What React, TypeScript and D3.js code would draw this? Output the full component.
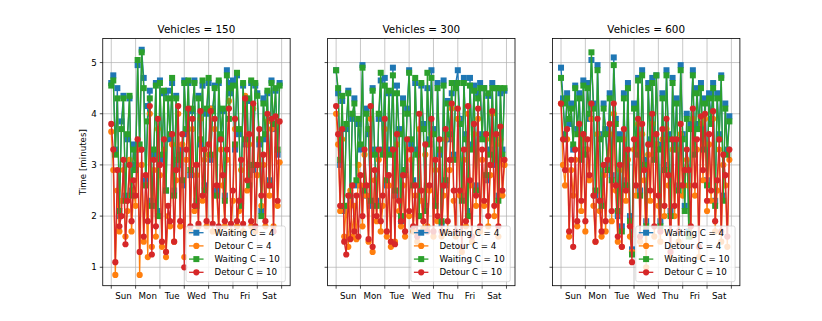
import React from 'react';
import * as d3 from 'd3';

// day labels and y ticks
const days = ['Sun', 'Mon', 'Tue', 'Wed', 'Thu', 'Fri', 'Sat'];
const yTicks = [1, 2, 3, 4, 5];
const vehicles = [150, 300, 600];
const seriesNames = ['Waiting C = 4', 'Detour C = 4', 'Waiting C = 10', 'Detour C = 10'];

// one value every 2 hours, Sun 00:00 .. Sat 22:00 (12 per day)
const waitC4_150 = [
  4.6, 4.75, 3.3, 4.5, 2.0, 3.85, 4.35, 2.4, 3.5, 4.3, 2.5, 3.4,
  3.0, 4.95, 3.3, 5.25, 4.7, 2.7, 4.15, 4.45, 2.3, 3.2, 4.6, 2.1,
  4.65, 3.1, 4.4, 2.5, 4.45, 3.5, 4.6, 2.5, 4.35, 3.0, 3.3, 2.6,
  4.65, 3.6, 4.6, 2.8, 4.05, 4.65, 2.3, 4.35, 3.4, 4.55, 2.6, 4.0,
  4.6, 3.1, 4.1, 4.55, 2.5, 4.6, 3.5, 4.05, 2.4, 4.85, 4.6, 4.4,
  4.65, 3.3, 4.75, 3.6, 2.3, 4.55, 3.4, 4.25, 2.8, 4.6, 2.9, 4.55,
  4.4, 3.4, 2.1, 4.3, 3.5, 4.4, 2.7, 4.65, 3.7, 4.45, 3.2, 4.6,
];
const detourC4_150 = [
  3.65, 2.9, 0.85, 2.5, 1.7, 2.3, 2.9, 1.6, 2.1, 3.1, 1.7, 2.5,
  2.2, 3.3, 0.85, 3.0, 1.5, 2.6, 1.2, 4.0, 1.4, 2.9, 1.6, 3.7,
  2.8, 1.4, 3.3, 1.2, 2.0, 1.8, 3.4, 1.5, 2.7, 4.0, 1.8, 3.4,
  1.2, 3.1, 3.9, 1.7, 3.7, 2.1, 2.8, 1.8, 3.9, 2.3, 3.1, 1.8,
  3.2, 4.1, 1.7, 3.7, 2.4, 1.7, 3.3, 2.6, 1.8, 3.1, 4.25, 1.7,
  2.3, 3.7, 1.8, 2.1, 2.9, 1.7, 4.35, 2.5, 3.4, 1.8, 4.1, 1.7,
  2.8, 3.5, 2.2, 3.0, 1.8, 3.85, 2.4, 3.7, 1.8, 3.8, 2.2, 3.05,
];
const waitC10_150 = [
  4.55, 4.65, 3.2, 4.3, 2.1, 3.7, 4.3, 2.3, 3.6, 4.35, 2.4, 3.3,
  2.9, 5.05, 3.4, 5.2, 4.5, 2.6, 3.85, 4.3, 2.2, 3.3, 4.55, 2.0,
  4.6, 3.2, 4.45, 2.5, 4.3, 3.6, 4.7, 2.4, 4.3, 3.1, 3.2, 2.7,
  4.6, 3.7, 4.65, 2.9, 4.1, 4.6, 2.2, 4.3, 3.5, 4.65, 2.5, 4.1,
  4.7, 3.2, 4.05, 4.5, 2.4, 4.65, 3.6, 4.1, 2.3, 4.75, 3.9, 4.5,
  4.55, 3.4, 4.8, 3.7, 2.2, 4.6, 3.5, 4.3, 2.6, 4.65, 3.0, 4.6,
  4.35, 3.5, 2.0, 4.2, 3.6, 4.45, 2.6, 4.6, 3.8, 4.5, 3.3, 4.55,
];
const detourC10_150 = [
  3.8, 3.3, 1.1, 2.9, 1.8, 2.0, 3.1, 1.45, 2.3, 3.0, 1.9, 2.7,
  2.4, 3.5, 1.3, 3.3, 1.6, 2.8, 1.9, 4.15, 1.25, 3.1, 1.8, 3.9,
  3.0, 1.5, 3.5, 1.3, 2.2, 1.9, 3.6, 1.5, 2.9, 4.15, 1.9, 3.6,
  1.0, 3.3, 4.1, 1.8, 3.9, 2.2, 3.0, 1.85, 4.05, 2.4, 3.3, 1.9,
  3.4, 4.05, 1.85, 3.9, 2.6, 1.8, 3.5, 2.8, 1.9, 3.3, 4.1, 1.85,
  2.5, 3.9, 1.9, 2.3, 3.1, 1.85, 4.3, 2.7, 3.6, 1.9, 4.2, 1.8,
  3.0, 3.7, 2.4, 3.2, 1.9, 4.0, 2.6, 3.9, 1.7, 3.95, 2.3, 3.85,
];

const waitC4_300 = [
  4.85, 4.4, 3.0, 4.25, 2.1, 3.7, 4.45, 2.3, 3.9, 4.3, 2.6, 3.8,
  3.3, 4.95, 2.4, 4.1, 3.6, 2.2, 4.5, 3.3, 2.3, 3.9, 4.65, 3.3,
  4.7, 2.6, 4.4, 3.3, 4.9, 2.4, 4.55, 3.7, 1.9, 4.3, 2.8, 4.1,
  4.85, 3.4, 2.7, 4.6, 3.3, 2.0, 4.55, 3.8, 2.2, 4.5, 3.5, 4.85,
  3.7, 2.3, 4.6, 3.2, 1.85, 4.65, 2.6, 4.25, 3.5, 4.4, 3.2, 4.6,
  4.85, 3.9, 2.4, 4.7, 3.6, 2.1, 4.7, 3.4, 4.55, 2.6, 4.4, 4.6,
  3.6, 4.5, 2.7, 4.35, 3.3, 4.6, 3.0, 4.5, 2.4, 4.4, 3.3, 4.45,
];
const detourC4_300 = [
  4.0, 3.4, 2.1, 3.5, 1.6, 2.2, 1.4, 2.5, 1.6, 2.2, 1.55, 3.0,
  2.6, 1.8, 3.2, 2.4, 1.5, 3.9, 1.3, 2.7, 1.9, 3.1, 1.7, 2.2,
  3.7, 1.6, 2.6, 1.4, 3.2, 1.5, 3.4, 2.1, 1.8, 2.6, 1.6, 3.3,
  2.0, 3.1, 1.7, 2.4, 1.5, 3.7, 2.3, 1.75, 3.2, 1.8, 2.5, 3.6,
  1.6, 2.9, 1.9, 3.3, 1.6, 2.4, 3.5, 1.7, 2.9, 4.1, 2.3, 1.6,
  3.9, 2.4, 1.3, 3.1, 1.8, 4.0, 2.6, 1.5, 3.6, 2.2, 3.9, 1.7,
  3.1, 2.2, 3.5, 1.8, 2.8, 4.0, 2.0, 3.4, 1.6, 3.5, 2.4, 3.0,
];
const waitC10_300 = [
  4.85, 4.5, 3.1, 4.35, 2.2, 3.8, 4.4, 2.4, 4.0, 4.2, 2.7, 3.9,
  3.4, 4.9, 2.5, 4.0, 3.7, 2.3, 4.45, 3.2, 2.2, 4.0, 4.8, 3.2,
  4.55, 2.7, 4.45, 3.2, 4.75, 2.5, 4.4, 3.6, 2.0, 4.2, 2.9, 4.0,
  4.8, 3.5, 2.6, 4.7, 3.2, 2.0, 4.6, 3.7, 2.1, 4.8, 3.4, 4.7,
  3.6, 2.2, 4.5, 3.3, 1.9, 4.55, 2.7, 4.2, 3.6, 4.6, 3.1, 4.5,
  4.6, 3.8, 2.3, 4.6, 3.5, 2.0, 4.55, 3.3, 4.45, 2.5, 4.3, 4.5,
  3.5, 4.5, 2.8, 4.4, 3.2, 4.5, 3.1, 4.5, 2.3, 4.5, 3.2, 4.5,
];
const detourC10_300 = [
  4.15, 3.6, 2.2, 3.7, 1.5, 1.25, 2.4, 1.55, 2.6, 1.7, 2.4, 1.6,
  2.8, 2.0, 3.3, 2.6, 1.55, 4.15, 1.4, 2.9, 2.0, 3.3, 1.9, 2.4,
  3.9, 1.7, 2.8, 1.5, 3.3, 1.45, 3.6, 2.3, 1.9, 2.8, 1.7, 3.5,
  2.1, 3.3, 1.8, 2.6, 1.6, 4.0, 2.5, 1.9, 3.4, 1.7, 2.6, 3.9,
  1.7, 3.1, 2.0, 3.5, 1.7, 2.6, 3.7, 1.9, 3.1, 4.2, 2.5, 1.7,
  4.1, 2.5, 1.4, 3.3, 1.9, 4.15, 2.7, 1.6, 3.8, 2.4, 4.1, 1.8,
  3.3, 2.3, 3.6, 2.0, 3.0, 4.05, 2.2, 3.6, 1.8, 3.75, 2.5, 3.1,
];

const waitC4_600 = [
  4.9, 4.3, 3.6, 4.4, 3.8, 4.2, 3.3, 4.55, 3.7, 4.4, 3.2, 4.65,
  3.3, 4.6, 3.9, 5.05, 4.2, 2.4, 4.95, 3.6, 2.3, 4.2, 3.7, 3.0,
  4.4, 2.8, 5.1, 3.9, 2.0, 3.6, 1.8, 4.4, 2.7, 4.6, 2.0, 1.35,
  4.2, 3.3, 4.7, 2.5, 4.85, 3.1, 1.9, 4.6, 3.5, 4.7, 3.2, 4.75,
  3.4, 1.9, 4.4, 3.0, 4.85, 3.6, 2.1, 4.7, 3.4, 4.3, 2.6, 4.95,
  3.6, 2.2, 4.0, 1.7, 3.8, 4.85, 3.3, 4.5, 3.8, 4.6, 3.4, 4.3,
  2.7, 4.4, 3.9, 4.6, 2.3, 4.4, 3.6, 4.75, 2.4, 4.2, 3.3, 3.95,
];
const detourC4_600 = [
  4.2, 3.0, 2.6, 3.5, 1.6, 2.9, 2.4, 3.1, 1.8, 3.6, 2.1, 3.5,
  1.7, 3.3, 2.7, 3.9, 2.2, 1.5, 3.6, 2.1, 1.6, 2.8, 1.7, 2.9,
  3.6, 1.9, 4.0, 2.5, 1.5, 2.9, 1.4, 3.5, 2.3, 3.1, 1.6, 1.3,
  3.3, 2.4, 3.8, 1.5, 3.6, 2.7, 1.0, 3.2, 2.3, 3.8, 1.6, 3.4,
  2.2, 1.5, 3.5, 2.0, 3.7, 2.6, 1.2, 3.3, 2.0, 3.3, 1.5, 3.6,
  2.4, 2.6, 3.1, 2.6, 1.6, 3.9, 2.4, 3.3, 1.2, 3.8, 2.7, 3.9,
  2.1, 3.4, 2.3, 3.9, 1.7, 2.5, 3.3, 1.5, 3.0, 2.6, 1.4, 3.1,
];
const waitC10_600 = [
  4.7, 4.2, 3.5, 4.3, 3.9, 4.1, 3.4, 4.5, 3.6, 4.3, 3.1, 4.55,
  3.2, 4.5, 4.0, 5.2, 4.1, 2.5, 4.85, 3.5, 2.2, 4.1, 3.6, 2.9,
  4.3, 2.7, 4.95, 3.8, 2.1, 3.5, 1.7, 4.3, 2.6, 4.5, 1.9, 1.25,
  4.1, 3.2, 4.65, 2.4, 4.75, 3.0, 1.8, 4.5, 3.4, 4.6, 3.1, 4.75,
  3.3, 1.8, 4.3, 2.9, 4.75, 3.5, 2.0, 4.6, 3.3, 4.2, 2.5, 4.85,
  3.5, 2.1, 3.9, 1.6, 3.7, 4.75, 3.2, 4.4, 3.7, 4.5, 3.3, 4.2,
  2.6, 4.3, 3.8, 4.5, 2.2, 4.3, 3.5, 4.7, 2.3, 4.1, 3.2, 3.85,
];
const detourC10_600 = [
  4.2, 3.5, 2.9, 3.7, 1.7, 3.1, 1.4, 3.3, 1.9, 3.8, 2.3, 3.6,
  1.9, 3.5, 2.8, 4.2, 2.4, 1.5, 3.9, 2.3, 1.7, 3.0, 1.9, 3.1,
  3.8, 2.1, 4.2, 2.6, 1.6, 3.0, 1.4, 3.7, 2.5, 3.3, 1.8, 1.1,
  3.5, 2.6, 3.9, 1.6, 3.8, 2.9, 1.7, 3.4, 2.5, 4.0, 1.8, 3.6,
  2.4, 1.7, 3.7, 2.2, 3.9, 2.8, 1.3, 3.5, 2.2, 3.5, 1.7, 3.8,
  2.6, 2.9, 3.3, 2.9, 1.8, 4.1, 2.6, 3.5, 1.4, 3.95, 2.9, 4.0,
  2.3, 3.6, 2.5, 4.05, 1.9, 2.7, 3.5, 1.7, 3.2, 2.8, 1.6, 3.3,
];

const panelSeries = [
  [waitC4_150, detourC4_150, waitC10_150, detourC10_150],
  [waitC4_300, detourC4_300, waitC10_300, detourC10_300],
  [waitC4_600, detourC4_600, waitC10_600, detourC10_600],
];

const colors = ['#1f77b4', '#ff7f0e', '#2ca02c', '#d62728'];
const markers = ['square', 'circle', 'square', 'circle'];

const W = 822;
const H = 321;
const top = 38.5;
const bottom = 285.7;
const panelW = 187.4;
const panelLefts = [102.75, 327.6, 552.5];
const font = 'DejaVu Sans, sans-serif';

const Marker = ({ type, x, y, color }) =>
  type === 'square' ? (
    <rect x={x - 3} y={y - 3} width={6} height={6} fill={color} />
  ) : (
    <circle cx={x} cy={y} r={3.1} fill={color} />
  );

const Panel = ({ idx }) => {
  const left = panelLefts[idx];
  const x = d3.scaleLinear().domain([-0.35, 7.35]).range([left, left + panelW]);
  const y = d3.scaleLinear().domain([0.64, 5.47]).range([bottom, top]);
  const line = d3
    .line<number>()
    .x((d, i) => x(i / 12))
    .y((d) => y(d));
  const dayTicks = d3.range(0, 8);
  const lg = { x: left + 83.3, y: 226 };

  return (
    <g>
      {/* grid */}
      {dayTicks.map((t) => (
        <line key={'gx' + t} x1={x(t)} x2={x(t)} y1={top} y2={bottom} stroke="#b0b0b0" strokeWidth={0.7} />
      ))}
      {yTicks.map((t) => (
        <line key={'gy' + t} x1={left} x2={left + panelW} y1={y(t)} y2={y(t)} stroke="#b0b0b0" strokeWidth={0.7} />
      ))}

      {/* series */}
      <defs>
        <clipPath id={'clip' + idx}>
          <rect x={left} y={top} width={panelW} height={bottom - top} />
        </clipPath>
      </defs>
      <g clipPath={`url(#clip${idx})`}>
        {panelSeries[idx].map((vals, s) => (
          <g key={s}>
            <path d={line(vals)} fill="none" stroke={colors[s]} strokeWidth={1.3} strokeLinejoin="round" />
            {vals.map((v, i) => (
              <Marker key={i} type={markers[s]} x={x(i / 12)} y={y(v)} color={colors[s]} />
            ))}
          </g>
        ))}
      </g>

      {/* spines */}
      <rect x={left} y={top} width={panelW} height={bottom - top} fill="none" stroke="#000" strokeWidth={0.8} />

      {/* x ticks */}
      {dayTicks.map((t) => (
        <line key={'tx' + t} x1={x(t)} x2={x(t)} y1={bottom} y2={bottom + 3} stroke="#000" strokeWidth={0.7} />
      ))}
      {days.map((d, i) => (
        <text key={d} x={x(i + 0.5)} y={299} textAnchor="middle" fontSize={8.7} fontFamily={font} fill="#000">
          {d}
        </text>
      ))}

      {/* y ticks */}
      {yTicks.map((t) => (
        <g key={'ty' + t}>
          <line x1={left - 3} x2={left} y1={y(t)} y2={y(t)} stroke="#000" strokeWidth={0.7} />
          {idx === 0 && (
            <text x={left - 6} y={y(t)} dy="0.35em" textAnchor="end" fontSize={8.7} fontFamily={font} fill="#000">
              {t}
            </text>
          )}
        </g>
      ))}
      {idx === 0 && (
        <text
          transform={`translate(83,${(top + bottom) / 2}) rotate(-90)`}
          textAnchor="middle"
          dy="0.35em"
          fontSize={8.7}
          fontFamily={font}
          fill="#000"
        >
          Time [minutes]
        </text>
      )}

      {/* title */}
      <text x={left + panelW / 2} y={33} textAnchor="middle" fontSize={10.4} fontFamily={font} fill="#000">
        {`Vehicles = ${vehicles[idx]}`}
      </text>

      {/* legend */}
      <rect x={lg.x} y={lg.y} width={99.3} height={55.7} rx={2} fill="#fff" fillOpacity={0.8} stroke="#cccccc" strokeWidth={0.7} />
      {seriesNames.map((name, s) => {
        const ly = lg.y + 6.7 + s * 13.2;
        return (
          <g key={name}>
            <line x1={lg.x + 3} x2={lg.x + 17.5} y1={ly} y2={ly} stroke={colors[s]} strokeWidth={1.3} />
            <Marker type={markers[s]} x={lg.x + 10.3} y={ly} color={colors[s]} />
            <text x={lg.x + 28.5} y={ly} dy="0.35em" fontSize={8.7} fontFamily={font} fill="#000">
              {name}
            </text>
          </g>
        );
      })}
    </g>
  );
};

export default function App() {
  return (
    <div style={{ position: 'absolute', left: 0, top: 0 }}>
      <svg width={W} height={H} style={{ display: 'block', background: '#fff' }}>
        {vehicles.map((v, i) => (
          <Panel key={v} idx={i} />
        ))}
      </svg>
    </div>
  );
}
